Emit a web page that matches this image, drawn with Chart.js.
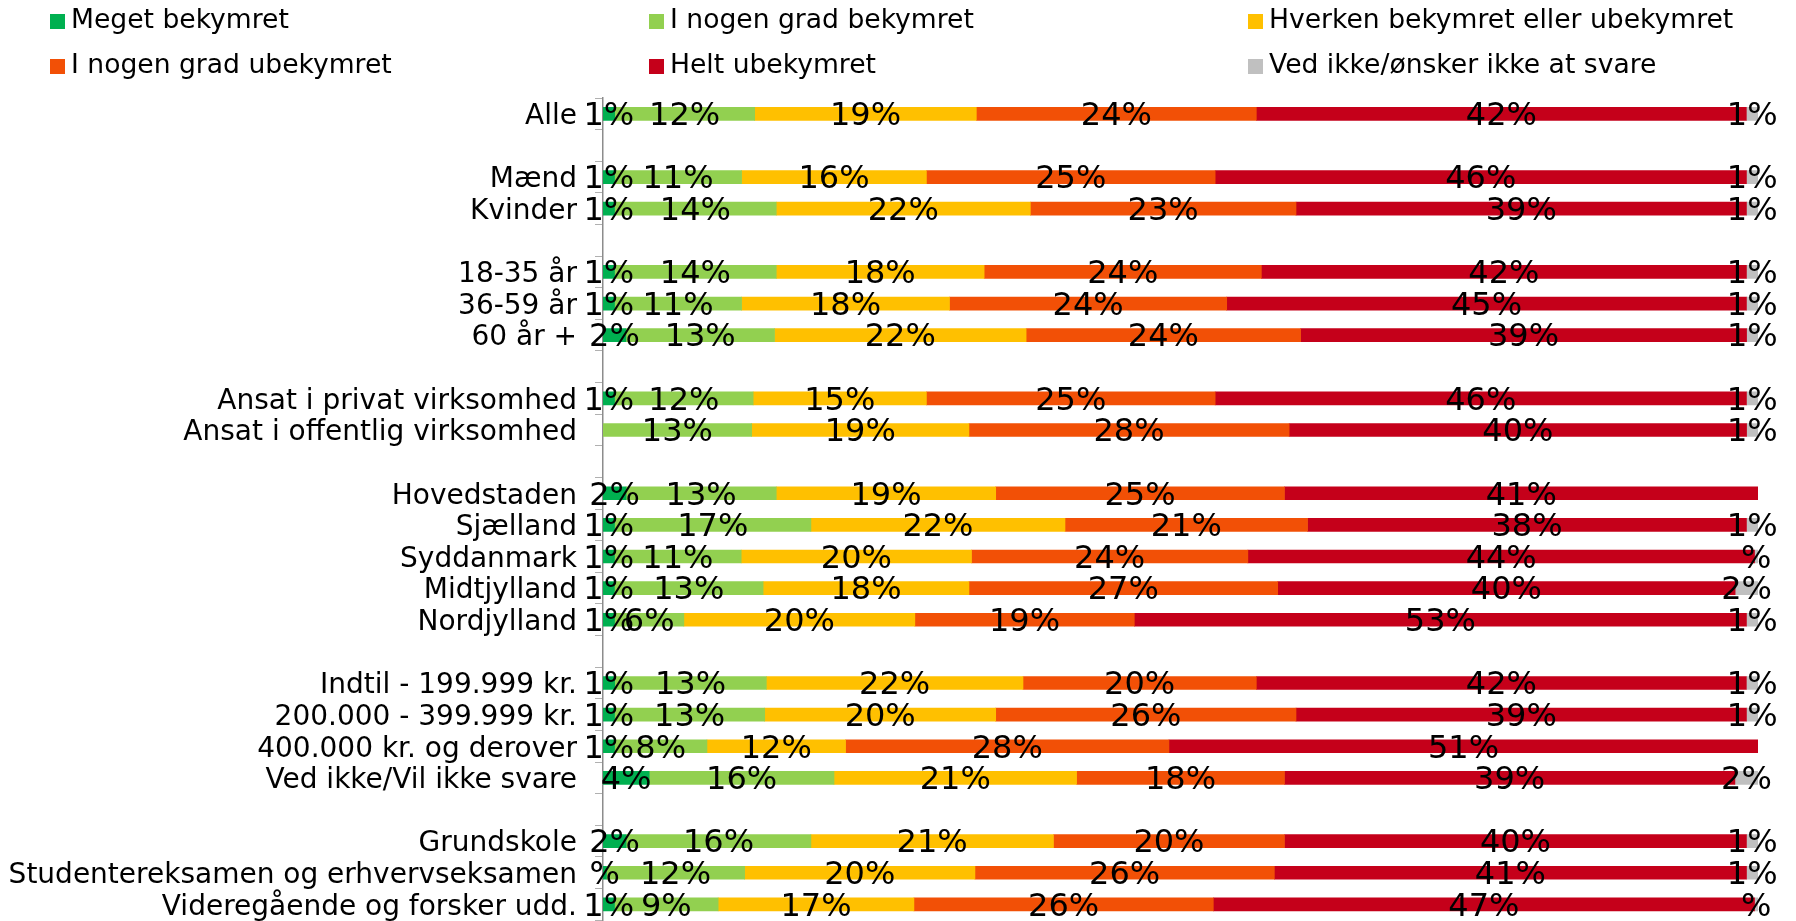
<!DOCTYPE html>
<html lang="da">
<head>
<meta charset="utf-8">
<script src="https://cdn.jsdelivr.net/npm/chart.js@4"></script>
<style>
  html, body { margin: 0; padding: 0; background: #fff; overflow: hidden; }
  #wrap { position: relative; width: 1796px; height: 955px; }
  #legend { position: absolute; left: 0; top: 0; width: 1796px; height: 90px;
            font-family: "DejaVu Sans", Verdana, sans-serif; font-size: 26.6px; color: #000; }
  .item { position: absolute; height: 30px; line-height: 30px; white-space: nowrap; }
  .box { display: inline-block; width: 15px; height: 15px; margin-right: 6px; vertical-align: -1px; }
</style>
</head>
<body>
<div id="wrap">
  <canvas id="bekymringChart"></canvas>
  <div id="legend"></div>
</div>
<script>
// ==========================================
// Data
// ==========================================
const categories = [
  "Alle", "",
  "Mænd", "Kvinder", "",
  "18-35 år", "36-59 år", "60 år +", "",
  "Ansat i privat virksomhed", "Ansat i offentlig virksomhed", "",
  "Hovedstaden", "Sjælland", "Syddanmark", "Midtjylland", "Nordjylland", "",
  "Indtil - 199.999 kr.", "200.000 - 399.999 kr.", "400.000 kr. og derover", "Ved ikke/Vil ikke svare", "",
  "Grundskole", "Studentereksamen og erhvervseksamen", "Videregående og forsker udd."
];

const seriesNames = [
  "Meget bekymret",
  "I nogen grad bekymret",
  "Hverken bekymret eller ubekymret",
  "I nogen grad ubekymret",
  "Helt ubekymret",
  "Ved ikke/ønsker ikke at svare"
];

const meget = [1, null, 1, 1, null, 1, 1, 2, null, 1, 0, null, 2, 1, 1, 1, 1, null, 1, 1, 1, 4, null, 2, 0.3, 1];
const nogenBekymret = [12, null, 11, 14, null, 14, 11, 13, null, 12, 13, null, 13, 17, 11, 13, 6, null, 13, 13, 8, 16, null, 16, 12, 9];
const hverken = [19, null, 16, 22, null, 18, 18, 22, null, 15, 19, null, 19, 22, 20, 18, 20, null, 22, 20, 12, 21, null, 21, 20, 17];
const nogenUbekymret = [24, null, 25, 23, null, 24, 24, 24, null, 25, 28, null, 25, 21, 24, 27, 19, null, 20, 26, 28, 18, null, 20, 26, 26];
const heltUbekymret = [42, null, 46, 39, null, 42, 45, 39, null, 46, 40, null, 41, 38, 44, 40, 53, null, 42, 39, 51, 39, null, 40, 41, 47];
const vedIkke = [1, null, 1, 1, null, 1, 1, 1, null, 1, 1, null, 0, 1, 0.3, 2, 1, null, 1, 1, 0, 2, null, 1, 1, 0.3];

const seriesValues = [meget, nogenBekymret, hverken, nogenUbekymret, heltUbekymret, vedIkke];
const seriesColors = ["#00B050", "#92D050", "#FFC000", "#F25006", "#C5001A", "#C0C0C0"];

const FONT = "'DejaVu Sans', Verdana, sans-serif";

// 100% stablet: hver række skaleres til sin egen sum
const rowTotals = categories.map((c, i) =>
  seriesValues.reduce((sum, s) => sum + (s[i] || 0), 0)
);

const datasets = seriesValues.map((values, k) => ({
  label: seriesNames[k],
  raw: values,
  data: values.map((v, i) => (v === null || v === 0 ? null : (v / rowTotals[i]) * 100)),
  backgroundColor: seriesColors[k],
  borderWidth: 0,
  barThickness: 13,
}));

// ==========================================
// Etiketter paa segmenterne
// ==========================================
const barLabels = {
  id: "barLabels",
  afterDatasetsDraw(chart) {
    const ctx = chart.ctx;
    ctx.save();
    ctx.font = "32px " + FONT;
    ctx.fillStyle = "#000";
    ctx.textAlign = "center";
    ctx.textBaseline = "middle";
    chart.data.datasets.forEach((ds, k) => {
      const meta = chart.getDatasetMeta(k);
      meta.data.forEach((bar, i) => {
        const v = ds.raw[i];
        if (v === null || v === 0) return;
        const r = Math.round(v);
        const text = r === 0 ? "%" : r + "%";
        ctx.fillText(text, (bar.x + bar.base) / 2, bar.y + 3);
      });
    });
    ctx.restore();
  },
};

// ==========================================
// Diagram
// ==========================================
const chart = new Chart(document.getElementById("bekymringChart"), {
  type: "bar",
  data: { labels: categories, datasets: datasets },
  plugins: [barLabels],
  options: {
    indexAxis: "y",
    responsive: true,
    maintainAspectRatio: false,
    animation: false,
    layout: { padding: { top: 98, right: 38, bottom: 15, left: 0 } },
    plugins: {
      legend: { display: false },
      tooltip: { enabled: false },
    },
    scales: {
      x: {
        stacked: true,
        min: 0,
        max: 100,
        display: false,
      },
      y: {
        stacked: true,
        afterFit: (scale) => { scale.width = 603; },
        border: { display: true, color: "#8c8c8c", width: 1.5 },
        grid: {
          drawOnChartArea: false,
          drawTicks: true,
          tickLength: 8,
          color: "#b0b0b0",
        },
        ticks: {
          autoSkip: false,
          padding: 18,
          labelOffset: 3,
          color: "#000",
          font: { family: FONT, size: 28 },
        },
      },
    },
  },
});

// ==========================================
// Forklaring (3 kolonner)
// ==========================================
const legend = document.getElementById("legend");
chart.data.datasets.forEach((ds, k) => {
  const item = document.createElement("div");
  item.className = "item";
  item.style.left = 50 + (k % 3) * 599 + "px";
  item.style.top = 4 + Math.floor(k / 3) * 45 + "px";
  item.innerHTML = '<span class="box" style="background:' + ds.backgroundColor + '"></span>' + ds.label;
  legend.appendChild(item);
});
</script>
</body>
</html>
